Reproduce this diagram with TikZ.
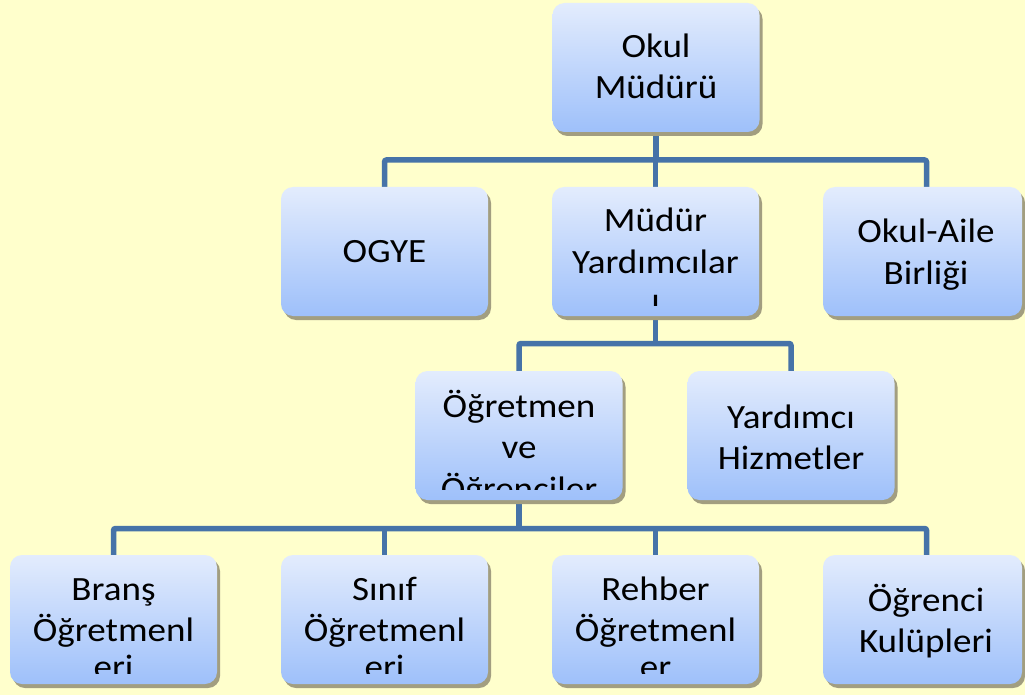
\documentclass[tikz,border=0pt]{standalone}
\usepackage{fontspec}
\setmainfont{Carlito}[FakeStretch=1.09]
\usetikzlibrary{shadows}
\definecolor{bgcol}{HTML}{FFFFCC}
\definecolor{boxtop}{HTML}{E3ECFD}
\definecolor{boxbot}{HTML}{9EC0FA}
\definecolor{conncol}{HTML}{4673A8}
\definecolor{shadowcol}{HTML}{A29E80}
\pgfdeclarelayer{bglayer}
\pgfdeclarelayer{connlayer}
\pgfsetlayers{bglayer,connlayer,main}
\begin{document}
\begin{tikzpicture}[x=1pt,y=-1pt,
  box/.style={rectangle, rounded corners=12pt, minimum width=207pt, minimum height=129pt, inner sep=0pt,
    top color=boxtop, bottom color=boxbot,
    drop shadow={shadow xshift=3pt, shadow yshift=-4pt, fill=shadowcol, opacity=1}},
  narrowbox/.style={box, minimum width=199pt},
  conn/.style={draw=conncol, line width=5.5pt, rounded corners=2pt},
  lbl/.style={anchor=base, inner sep=0pt, text=black, font=\fontsize{34}{41}\selectfont}]
\useasboundingbox (0,0) rectangle (1025,695);
\begin{pgfonlayer}{bglayer}
  \fill[bgcol] (0,0) rectangle (1025,695);
\end{pgfonlayer}

% boxes
\node[box] (A) at (656,67.5) {};
\node[box] (B) at (384.5,251.5) {};
\node[box] (C) at (655.5,251.5) {};
\node[narrowbox] (D) at (922.5,251.5) {};
\node[box] (E) at (519,435.5) {};
\node[box] (F) at (791,435.5) {};
\node[box] (G) at (113.5,619.5) {};
\node[box] (H) at (384.5,619.5) {};
\node[box] (I) at (655.5,619.5) {};
\node[narrowbox] (J) at (922.5,619.5) {};

% texts
\begin{scope}
  \clip (A.north west) rectangle ([yshift=11pt]A.south east);
  \node[lbl] (tA) at (656,58) {\begin{tabular}[t]{@{}c@{}}Okul\\Müdürü\end{tabular}};
\end{scope}
\begin{scope}
  \clip (B.north west) rectangle ([yshift=11pt]B.south east);
  \node[lbl] (tB) at (384.5,262) {OGYE};
\end{scope}
\begin{scope}
  \clip (C.north west) rectangle ([yshift=11pt]C.south east);
  \node[lbl] (tC) at (655.5,232) {\begin{tabular}[t]{@{}c@{}}Müdür\\Yardımcılar\\[-3pt]ı\end{tabular}};
\end{scope}
\begin{scope}
  \clip (D.north west) rectangle ([yshift=11pt]D.south east);
  \node[lbl] (tD) at (926,243) {\begin{tabular}[t]{@{}c@{}}Okul-Aile\\Birliği\end{tabular}};
\end{scope}
\begin{scope}
  \clip (E.north west) rectangle ([yshift=11pt]E.south east);
  \node[lbl] (tE) at (519,417) {\begin{tabular}[t]{@{}c@{}}Öğretmen\\ve\\[1pt]Öğrenciler\end{tabular}};
\end{scope}
\begin{scope}
  \clip (F.north west) rectangle ([yshift=11pt]F.south east);
  \node[lbl] (tF) at (791,428) {\begin{tabular}[t]{@{}c@{}}Yardımcı\\Hizmetler\end{tabular}};
\end{scope}
\begin{scope}
  \clip (G.north west) rectangle ([yshift=11pt]G.south east);
  \node[lbl] (tG) at (113.5,600) {\begin{tabular}[t]{@{}c@{}}Branş\\Öğretmenl\\[-4pt]eri\end{tabular}};
\end{scope}
\begin{scope}
  \clip (H.north west) rectangle ([yshift=11pt]H.south east);
  \node[lbl] (tH) at (384.5,600) {\begin{tabular}[t]{@{}c@{}}Sınıf\\Öğretmenl\\[-4pt]eri\end{tabular}};
\end{scope}
\begin{scope}
  \clip (I.north west) rectangle ([yshift=11pt]I.south east);
  \node[lbl] (tI) at (655.5,600) {\begin{tabular}[t]{@{}c@{}}Rehber\\Öğretmenl\\[-4pt]er\end{tabular}};
\end{scope}
\begin{scope}
  \clip (J.north west) rectangle ([yshift=11pt]J.south east);
  \node[lbl] (tJ) at (926,611) {\begin{tabular}[t]{@{}c@{}}Öğrenci\\Kulüpleri\end{tabular}};
\end{scope}

% connectors
\coordinate (bus1) at (656,160);
\coordinate (bus2) at (656,343.5);
\coordinate (bus3) at (520,528.5);
\coordinate (Dtop) at ([xshift=4pt]D.north);
\coordinate (Jtop) at ([xshift=4pt]J.north);
\begin{pgfonlayer}{connlayer}
  \draw[conn] (B.north) |- (bus1 -| Dtop) -- (Dtop);
  \draw[conn] (A.south) -- (A.south |- bus1);
  \draw[conn] (C.north) -- (C.north |- bus1);
  \draw[conn] (E.north) |- (bus2 -| F.north) -- (F.north);
  \draw[conn] (C.south) -- (C.south |- bus2);
  \draw[conn] (G.north) |- (bus3 -| Jtop) -- (Jtop);
  \draw[conn] (E.south) -- (E.south |- bus3);
  \draw[conn] (H.north) -- (H.north |- bus3);
  \draw[conn] (I.north) -- (I.north |- bus3);
\end{pgfonlayer}
\end{tikzpicture}
\end{document}
